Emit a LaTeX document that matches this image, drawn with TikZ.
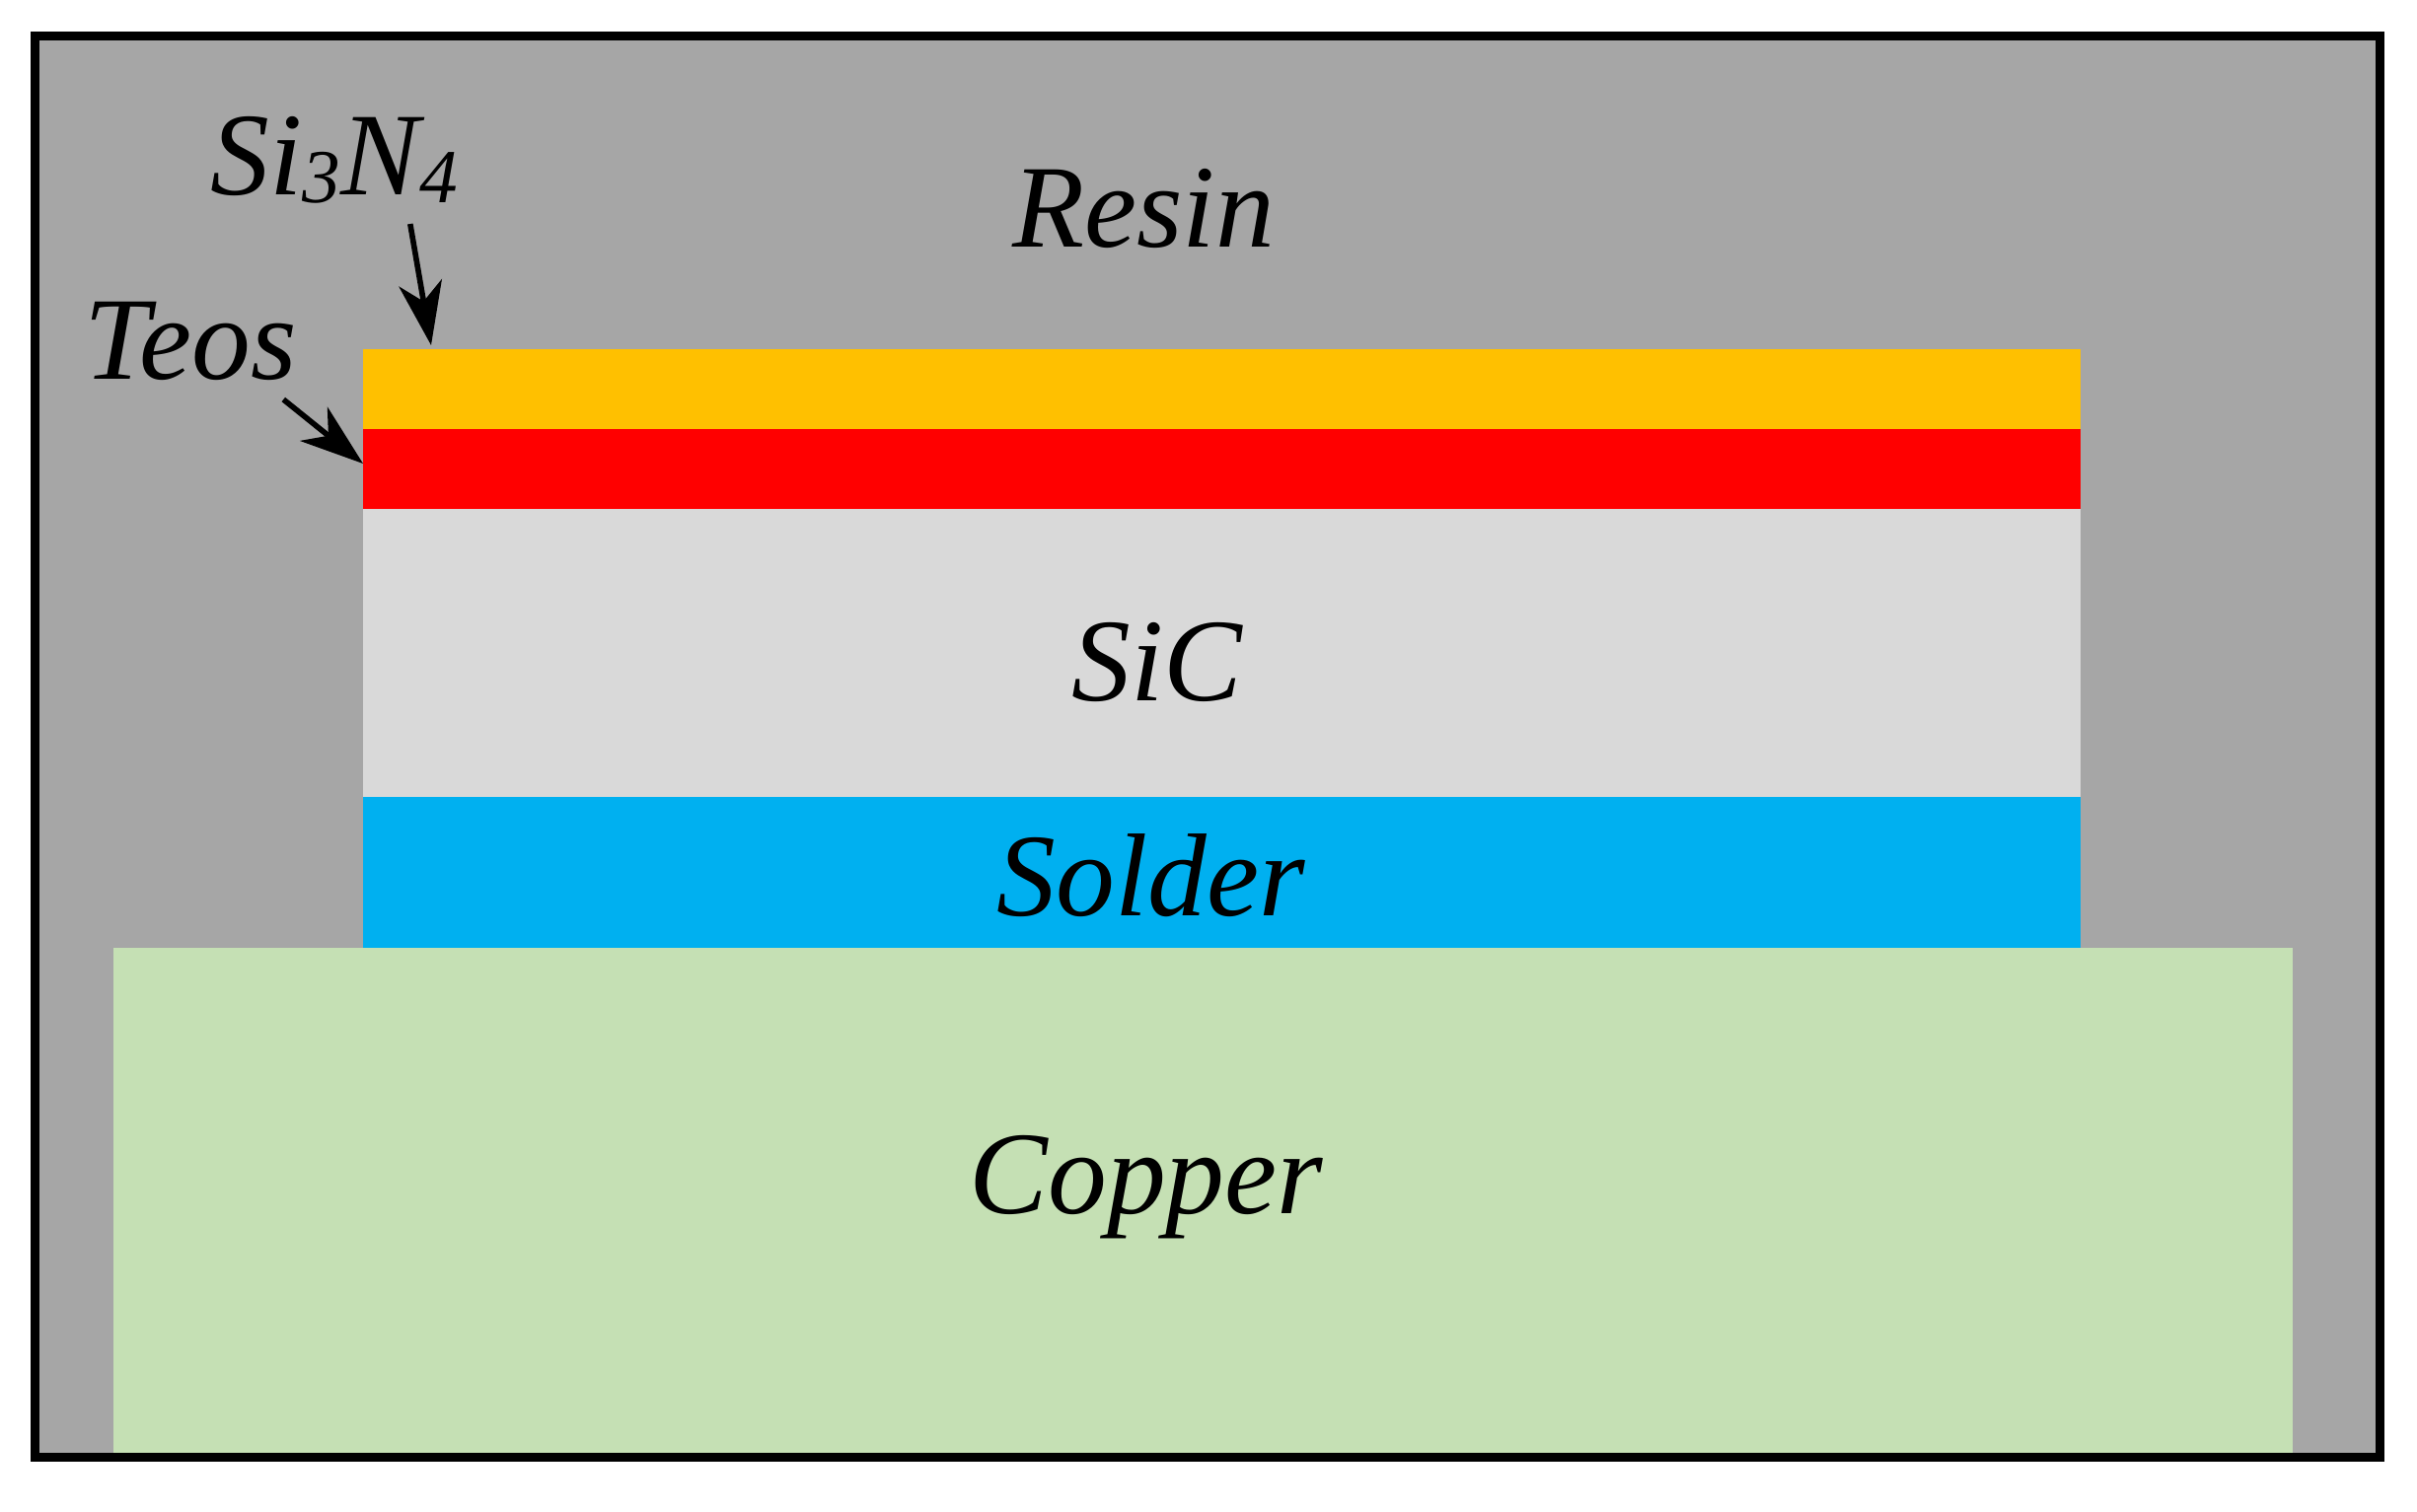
\documentclass[tikz,border=0pt]{standalone}
\usepackage{fontspec}
\setmainfont{Liberation Serif}
\usetikzlibrary{arrows.meta,positioning}
\definecolor{resin}{HTML}{A6A6A6}
\definecolor{copper}{HTML}{C5E0B4}
\definecolor{solder}{HTML}{00B0F0}
\definecolor{sic}{HTML}{D9D9D9}
\definecolor{teos}{HTML}{FF0000}
\definecolor{nitride}{HTML}{FFC000}
\newcommand{\lowsub}[1]{\raisebox{-0.07em}{\fontsize{22}{26}\selectfont #1}}
\tikzset{lbl/.style={inner sep=0pt,font=\fontsize{34}{40}\selectfont\itshape},
  pointer/.style={-{Stealth[length=6.4mm,width=4.4mm,inset=1.9mm]},line width=1.6pt}}
\begin{document}
\begin{tikzpicture}[x=0.01cm,y=-0.01cm]
\useasboundingbox (0,0) rectangle (2450,1533);
\fill[resin] (35.5,36.5) rectangle (2412.5,1477.5);
\fill[copper] (115,961) rectangle (2324,1477.5);
\fill[solder] (368,808) rectangle (2109,961);
\fill[sic] (368,516) rectangle (2109,808);
\fill[teos] (368,435) rectangle (2109,516);
\fill[nitride] (368,354) rectangle (2109,435);
\draw[line width=2.7pt] (35.5,36.5) rectangle (2412.5,1477.5);
\node[lbl,anchor=base](NRe) at (1159,250){Resin};
\node[lbl,anchor=base](NSc) at (1173,710){SiC};
\node[lbl,anchor=base](NSo) at (1167,928){Solder};
\node[lbl,anchor=base](NCu) at (1162,1230){Copper};
\node[lbl,anchor=base west](NSi) at (213,197){Si\lowsub{3}N\lowsub{4}};
\node[lbl,anchor=base west](NTe) at (85,384){Teos};
\coordinate (CSi) at (437,350);
\coordinate (CTe) at (368,470);
\draw[pointer] ([xshift=7.7mm,yshift=-3mm]NSi.base) -- (CSi);
\draw[pointer] ([xshift=-1.4mm,yshift=-2.1mm]NTe.base east) -- (CTe);
\end{tikzpicture}
\end{document}
